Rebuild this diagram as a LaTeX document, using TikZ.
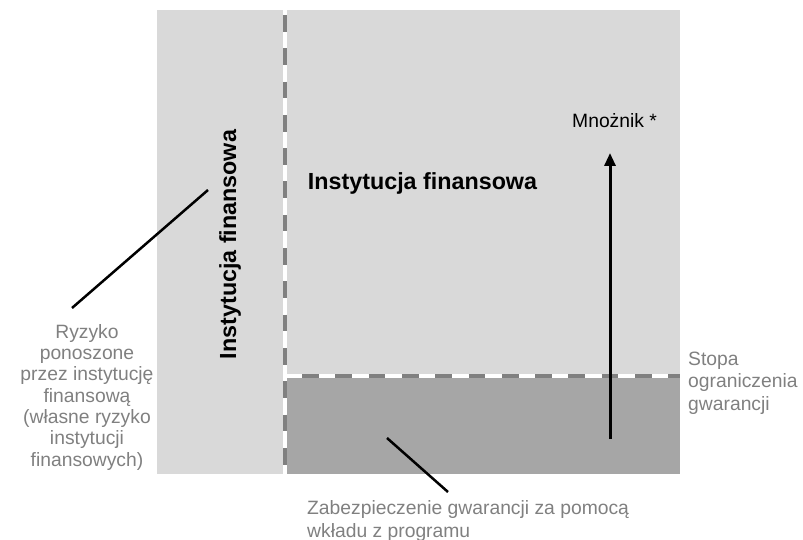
\documentclass[tikz,border=0pt]{standalone}
\usepackage{fontspec}
\setmainfont{Liberation Sans}
\usetikzlibrary{arrows.meta}
\definecolor{lightg}{HTML}{D9D9D9}
\definecolor{darkg}{HTML}{A6A6A6}
\definecolor{dashg}{HTML}{808080}
\definecolor{labelg}{HTML}{808080}
\tikzset{
  boldlabel/.style={inner sep=0pt, font=\fontsize{23.3}{26}\selectfont\bfseries, text=black},
  graylabel/.style={inner sep=0pt, font=\fontsize{19.3}{22.3}\selectfont, text=labelg},
  blacklabel/.style={inner sep=0pt, font=\fontsize{19.3}{22.3}\selectfont, text=black},
  pointer/.style={draw=black, line width=2.5pt},
  whiteline/.style={draw=white, line width=4pt},
  dashline/.style={draw=dashg, line width=4pt, dash pattern=on 16.7pt off 16.6pt},
}
\begin{document}
\begin{tikzpicture}[x=1pt,y=-1pt]
\useasboundingbox (0,0) rectangle (803,540);
% regions
\fill[lightg] (157,10) rectangle (680,474);
\fill[darkg] (284.5,376) rectangle (680,474);
% dashed separators
\draw[whiteline] (284.5,10) -- (284.5,474);
\draw[whiteline] (284.5,376) -- (680,376);
\draw[dashline] (284.5,15) -- (284.5,474);
\draw[dashline] (302,376) -- (680,376);
% texts
\node[boldlabel, rotate=90, anchor=base] (vlab) at (236,244.5) {Instytucja finansowa};
\node[boldlabel, anchor=base] (hlab) at (422.5,190) {Instytucja finansowa};
\node[blacklabel, anchor=base west] (mult) at (572,128) {Mnożnik *};
\node[graylabel, anchor=base, align=center, font=\fontsize{19.3}{21.3}\selectfont] (risk) at (87,466)
  {Ryzyko\\ponoszone\\przez instytucję\\finansową\\(własne ryzyko\\instytucji\\finansowych)};
\node[graylabel, anchor=base west, align=left] (rate) at (688,410)
  {Stopa\\ograniczenia\\gwarancji};
\node[graylabel, anchor=base west, align=left] (secure) at (307,537)
  {Zabezpieczenie gwarancji za pomocą\\wkładu z programu};
% connectors
\coordinate (riskend) at (72,308);
\coordinate (riskpt) at (208,190);
\draw[pointer] (riskend) -- (riskpt);
\coordinate (secpt) at (387,438);
\coordinate (secend) at (448,492);
\draw[pointer] (secpt) -- (secend);
\coordinate (arrbot) at (610,439);
\coordinate (arrtop) at (610,153);
\draw[draw=black, line width=3pt, -{Triangle[width=11pt,length=13pt]}] (arrbot) -- (arrtop);
\end{tikzpicture}
\end{document}
